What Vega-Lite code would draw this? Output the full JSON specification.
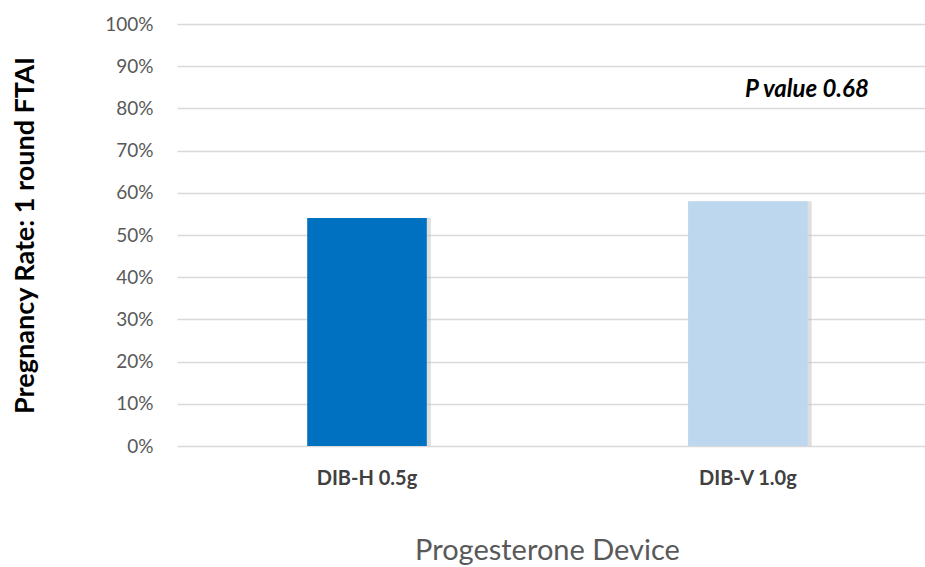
{
  "$schema": "https://vega.github.io/schema/vega-lite/v6.json",
  "width": 748,
  "height": 422,
  "autosize": "none",
  "padding": {"left": 177, "top": 24, "right": 0, "bottom": 121},
  "background": "white",
  "config": {"view": {"stroke": null}, "font": "Lato"},
  "data": {"values": [
    {"device": "DIB-H 0.5g", "rate": 0.54, "color": "#0070C0"},
    {"device": "DIB-V 1.0g", "rate": 0.58, "color": "#BDD7EE"}
  ]},
  "encoding": {
    "x": {
      "field": "device", "type": "nominal", "sort": null,
      "scale": {"paddingInner": 0.686, "paddingOuter": 0.325, "align": 0.526},
      "axis": {
        "title": "Progesterone Device", "titleFont": "Lato", "titleFontSize": 29, "titleFontWeight": "normal", "titleColor": "#595959",
        "titleX": 370, "titleY": 113, "titleBaseline": "alphabetic",
        "labelAngle": 0, "labelFont": "Lato", "labelFontSize": 20, "labelFontWeight": "bold", "labelColor": "#404040", "labelPadding": 22,
        "domain": false, "ticks": false
      }
    }
  },
  "layer": [
    {
      "mark": {"type": "bar", "color": "#bfbfbf", "opacity": 0.5, "xOffset": 4},
      "encoding": {
        "y": {"field": "rate", "type": "quantitative"}
      }
    },
    {
      "mark": {"type": "bar"},
      "encoding": {
        "y": {
          "field": "rate", "type": "quantitative",
          "scale": {"domain": [0, 1]},
          "axis": {
            "title": "Pregnancy Rate: 1 round FTAI", "titleFont": "Lato", "titleFontSize": 27, "titleFontWeight": "bold", "titleColor": "#000000",
            "titleX": -152, "titleY": 211, "titleBaseline": "middle", "titleAngle": -90,
            "format": ".0%", "values": [0,0.1,0.2,0.3,0.4,0.5,0.6,0.7,0.8,0.9,1],
            "labelFont": "Lato", "labelFontSize": 19, "labelColor": "#595959", "labelPadding": 24,
            "domain": false, "ticks": false,
            "grid": true, "gridColor": "#d9d9d9", "gridWidth": 1.5
          }
        },
        "color": {"field": "color", "type": "nominal", "scale": null}
      }
    },
    {
      "data": {"values": [{"device": "DIB-V 1.0g", "y": 0.844, "label": "P value 0.68"}]},
      "mark": {"type": "text", "font": "Lato", "fontSize": 24, "fontWeight": "bold", "fontStyle": "italic", "color": "#000000", "xOffset": 59, "baseline": "middle"},
      "encoding": {
        "y": {"field": "y", "type": "quantitative"},
        "text": {"field": "label"}
      }
    }
  ]
}
